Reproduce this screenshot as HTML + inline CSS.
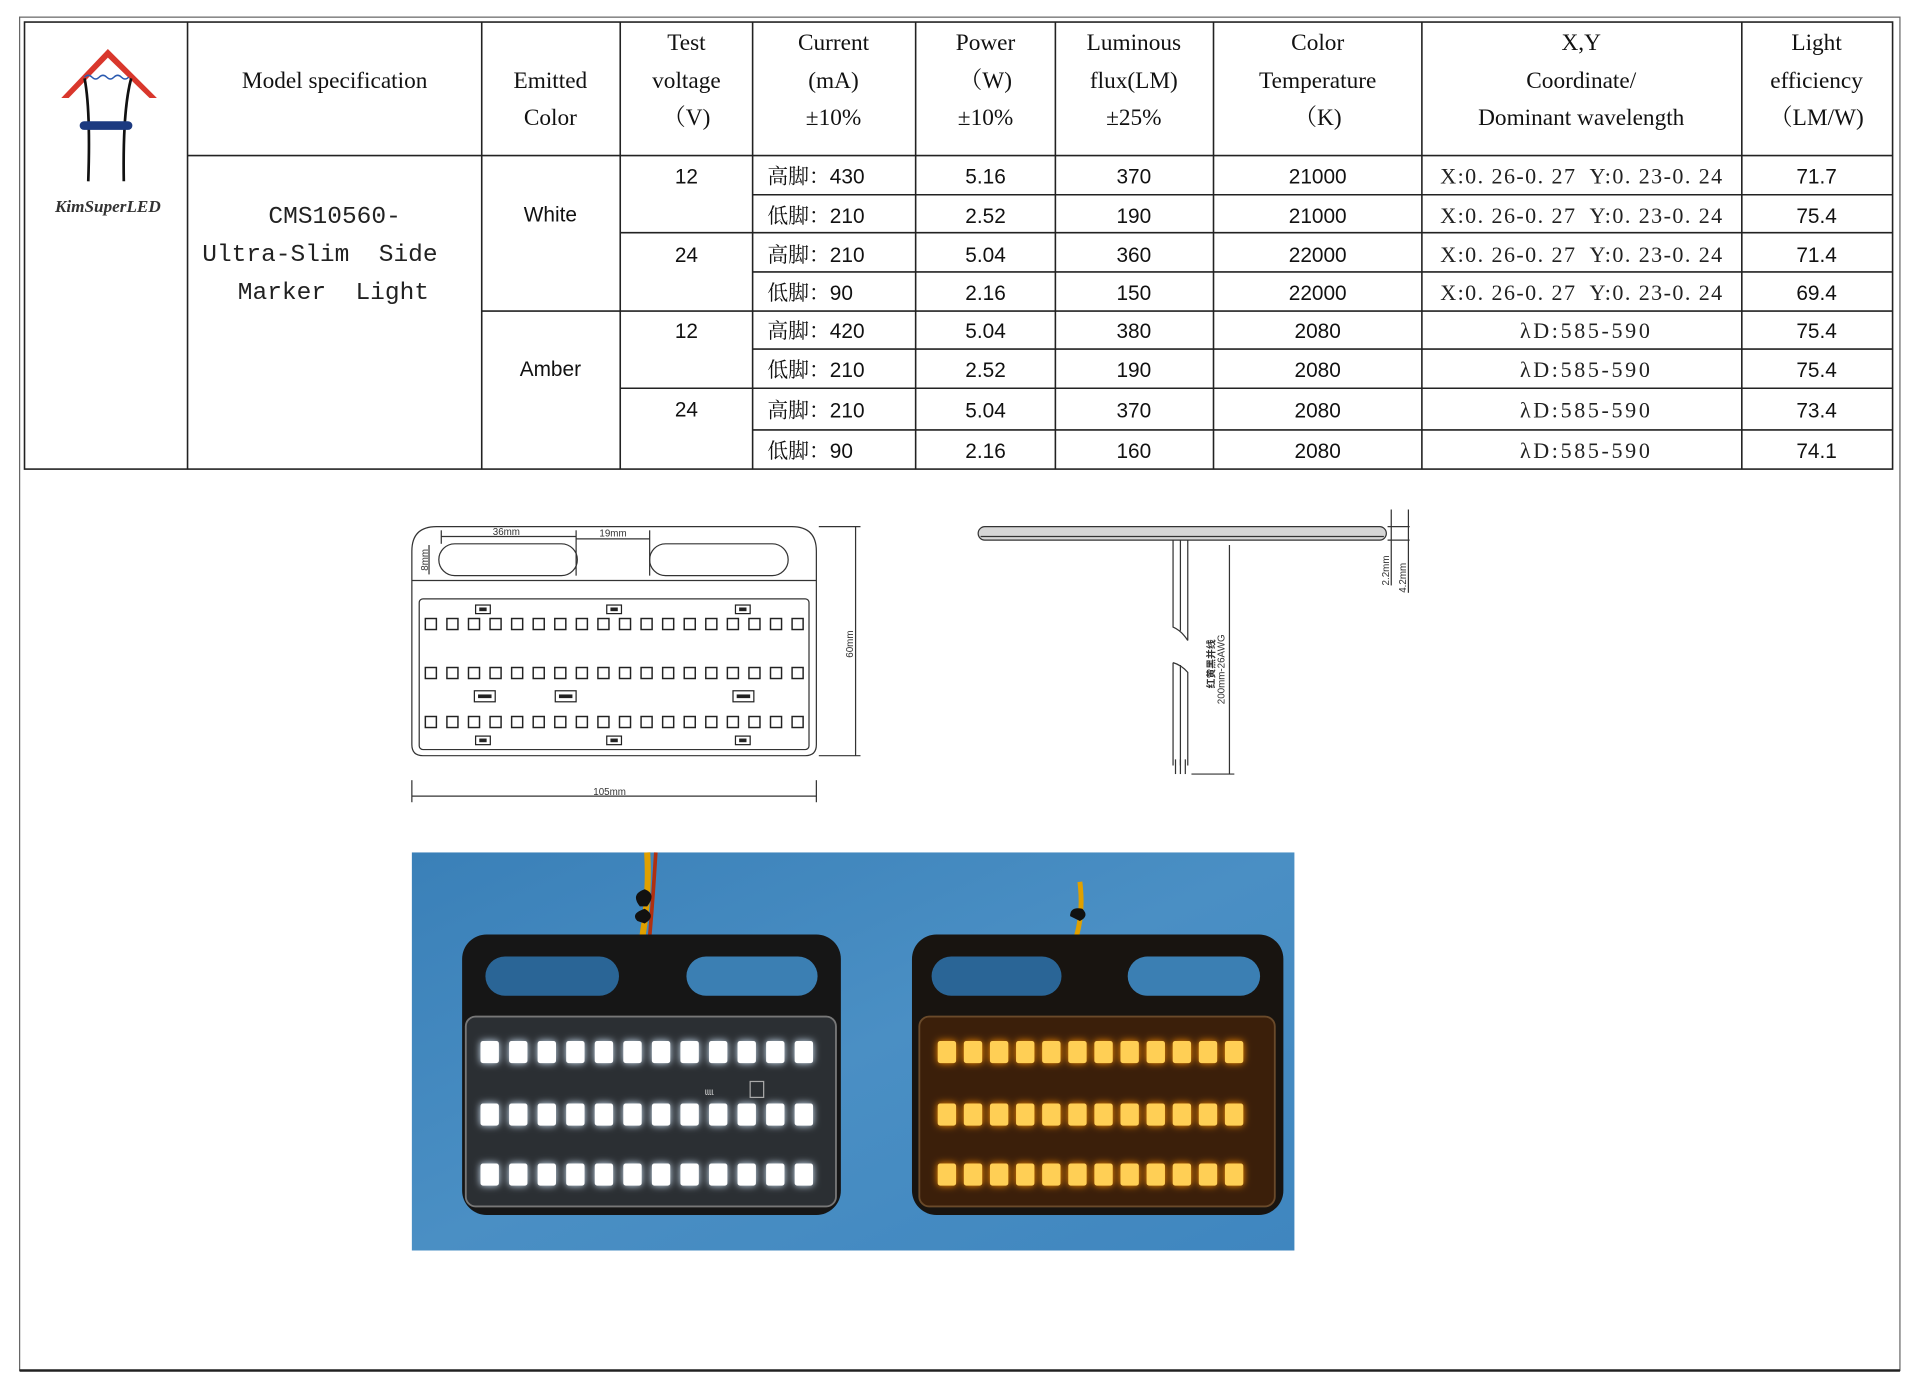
<!DOCTYPE html>
<html><head><meta charset="utf-8"><style>
html,body{margin:0;padding:0;background:#fff;}
svg{display:block;}
.h{font-family:"Liberation Serif","Noto Serif CJK SC",serif;font-size:19px;fill:#111;text-anchor:middle;}
.n{font-family:"Liberation Sans","Noto Sans CJK SC",sans-serif;font-size:17px;fill:#111;text-anchor:middle;}
.c{font-family:"Liberation Sans","Noto Serif CJK SC",sans-serif;font-size:17px;fill:#111;}
.m{font-family:"Liberation Mono","Noto Sans CJK SC",monospace;font-size:20px;fill:#222;text-anchor:middle;}
.x{font-family:"Liberation Serif","Noto Serif CJK SC",serif;font-size:18px;fill:#222;}
.d{font-family:"Liberation Sans","Noto Sans CJK SC",sans-serif;font-size:8px;fill:#333;}
</style></head><body>
<svg width="1922" height="1384" viewBox="0 0 1568 1130" preserveAspectRatio="none" xmlns="http://www.w3.org/2000/svg">
<defs>
<g id="sqrow" fill="none" stroke="#222" stroke-width="1.2">
<rect x="347" y="0" width="9" height="9"/><rect x="364.6" y="0" width="9" height="9"/><rect x="382.2" y="0" width="9" height="9"/><rect x="399.8" y="0" width="9" height="9"/><rect x="417.4" y="0" width="9" height="9"/><rect x="435" y="0" width="9" height="9"/><rect x="452.6" y="0" width="9" height="9"/><rect x="470.2" y="0" width="9" height="9"/><rect x="487.8" y="0" width="9" height="9"/><rect x="505.4" y="0" width="9" height="9"/><rect x="523" y="0" width="9" height="9"/><rect x="540.6" y="0" width="9" height="9"/><rect x="558.2" y="0" width="9" height="9"/><rect x="575.8" y="0" width="9" height="9"/><rect x="593.4" y="0" width="9" height="9"/><rect x="611" y="0" width="9" height="9"/><rect x="628.6" y="0" width="9" height="9"/><rect x="646.2" y="0" width="9" height="9"/>
</g>
<g id="wrow">
<rect x="392" y="-9" width="15" height="18" rx="2"/><rect x="415.3" y="-9" width="15" height="18" rx="2"/><rect x="438.6" y="-9" width="15" height="18" rx="2"/><rect x="461.9" y="-9" width="15" height="18" rx="2"/><rect x="485.2" y="-9" width="15" height="18" rx="2"/><rect x="508.5" y="-9" width="15" height="18" rx="2"/><rect x="531.8" y="-9" width="15" height="18" rx="2"/><rect x="555.1" y="-9" width="15" height="18" rx="2"/><rect x="578.4" y="-9" width="15" height="18" rx="2"/><rect x="601.7" y="-9" width="15" height="18" rx="2"/><rect x="625" y="-9" width="15" height="18" rx="2"/><rect x="648.3" y="-9" width="15" height="18" rx="2"/>
</g>
<g id="arow">
<rect x="765" y="-9" width="15" height="18" rx="2"/><rect x="786.3" y="-9" width="15" height="18" rx="2"/><rect x="807.6" y="-9" width="15" height="18" rx="2"/><rect x="828.9" y="-9" width="15" height="18" rx="2"/><rect x="850.2" y="-9" width="15" height="18" rx="2"/><rect x="871.5" y="-9" width="15" height="18" rx="2"/><rect x="892.8" y="-9" width="15" height="18" rx="2"/><rect x="914.1" y="-9" width="15" height="18" rx="2"/><rect x="935.4" y="-9" width="15" height="18" rx="2"/><rect x="956.7" y="-9" width="15" height="18" rx="2"/><rect x="978" y="-9" width="15" height="18" rx="2"/><rect x="999.3" y="-9" width="15" height="18" rx="2"/>
</g>
<filter id="glow" x="-50%" y="-50%" width="200%" height="200%"><feGaussianBlur stdDeviation="3"/></filter>
<linearGradient id="bg" x1="0" y1="0" x2="1" y2="1"><stop offset="0" stop-color="#3a80b8"/><stop offset="0.5" stop-color="#4a8fc4"/><stop offset="1" stop-color="#3f86bf"/></linearGradient>
</defs>

<rect x="16" y="14" width="1534" height="1105" fill="none" stroke="#666" stroke-width="1"/>
<line x1="16" y1="1119" x2="1550" y2="1119" stroke="#222" stroke-width="2"/>

<g stroke="#222" stroke-width="1.3" fill="none">
<rect x="20" y="18" width="1524" height="365"/>
<line x1="153" y1="18" x2="153" y2="383"/>
<line x1="393" y1="18" x2="393" y2="383"/>
<line x1="506" y1="18" x2="506" y2="383"/>
<line x1="614" y1="18" x2="614" y2="383"/>
<line x1="747" y1="18" x2="747" y2="383"/>
<line x1="861" y1="18" x2="861" y2="383"/>
<line x1="990" y1="18" x2="990" y2="383"/>
<line x1="1160" y1="18" x2="1160" y2="383"/>
<line x1="1421" y1="18" x2="1421" y2="383"/>
<line x1="153" y1="127" x2="1544" y2="127"/>
<line x1="614" y1="159" x2="1544" y2="159"/>
<line x1="506" y1="190" x2="1544" y2="190"/>
<line x1="614" y1="222" x2="1544" y2="222"/>
<line x1="393" y1="254" x2="1544" y2="254"/>
<line x1="614" y1="285" x2="1544" y2="285"/>
<line x1="506" y1="317" x2="1544" y2="317"/>
<line x1="614" y1="351" x2="1544" y2="351"/>
</g>

<path d="M50 80 L88 40 L128 80 L122 80 L88 47 L56 80 Z" fill="#d9372c"/>
<path d="M69 63 q3 -3 6 0 q3 3 6 0 q3 -3 6 0 q3 3 6 0 q3 -3 6 0 q3 3 6 0" fill="none" stroke="#2a5ab0" stroke-width="1.2"/>
<path d="M69 64 Q74 90 72 148 M107 64 Q100 90 101 148" fill="none" stroke="#111" stroke-width="2.2"/>
<rect x="65" y="99" width="43" height="7" rx="3.5" fill="#1c3a80"/>
<text x="88" y="173" text-anchor="middle" font-family="Liberation Serif,serif" font-style="italic" font-weight="bold" font-size="14" fill="#333">KimSuperLED</text>

<text class="h" x="273" y="72">Model specification</text>
<text class="h" x="449" y="72">Emitted</text><text class="h" x="449" y="102">Color</text>
<text class="h" x="560" y="41">Test</text><text class="h" x="560" y="72">voltage</text><text class="h" x="560" y="102">（V)</text>
<text class="h" x="680" y="41">Current</text><text class="h" x="680" y="72">(mA)</text><text class="h" x="680" y="102">±10%</text>
<text class="h" x="804" y="41">Power</text><text class="h" x="804" y="72">（W)</text><text class="h" x="804" y="102">±10%</text>
<text class="h" x="925" y="41">Luminous</text><text class="h" x="925" y="72">flux(LM)</text><text class="h" x="925" y="102">±25%</text>
<text class="h" x="1075" y="41">Color</text><text class="h" x="1075" y="72">Temperature</text><text class="h" x="1075" y="102">（K)</text>
<text class="h" x="1290" y="41">X,Y</text><text class="h" x="1290" y="72">Coordinate/</text><text class="h" x="1290" y="102">Dominant wavelength</text>
<text class="h" x="1482" y="41">Light</text><text class="h" x="1482" y="72">efficiency</text><text class="h" x="1482" y="102">（LM/W)</text>

<text class="m" x="273" y="182">CMS10560-</text>
<text class="m" x="261" y="213" xml:space="preserve">Ultra-Slim  Side</text>
<text class="m" x="272" y="244" xml:space="preserve">Marker  Light</text>
<text class="n" x="449" y="181">White</text>
<text class="n" x="449" y="307">Amber</text>
<text class="n" x="560" y="150">12</text>
<text class="n" x="560" y="214">24</text>
<text class="n" x="560" y="276">12</text>
<text class="n" x="560" y="340">24</text>

<g>
<text class="c" x="626" y="150">高脚：430</text>
<text class="c" x="626" y="182">低脚：210</text>
<text class="c" x="626" y="214">高脚：210</text>
<text class="c" x="626" y="245">低脚：90</text>
<text class="c" x="626" y="276">高脚：420</text>
<text class="c" x="626" y="308">低脚：210</text>
<text class="c" x="626" y="341">高脚：210</text>
<text class="c" x="626" y="374">低脚：90</text>
</g>
<g>
<text class="n" x="804" y="150">5.16</text><text class="n" x="925" y="150">370</text><text class="n" x="1075" y="150">21000</text><text class="x" x="1175" y="150" textLength="230" lengthAdjust="spacing" xml:space="preserve">X:0. 26-0. 27  Y:0. 23-0. 24</text><text class="n" x="1482" y="150">71.7</text>
<text class="n" x="804" y="182">2.52</text><text class="n" x="925" y="182">190</text><text class="n" x="1075" y="182">21000</text><text class="x" x="1175" y="182" textLength="230" lengthAdjust="spacing" xml:space="preserve">X:0. 26-0. 27  Y:0. 23-0. 24</text><text class="n" x="1482" y="182">75.4</text>
<text class="n" x="804" y="214">5.04</text><text class="n" x="925" y="214">360</text><text class="n" x="1075" y="214">22000</text><text class="x" x="1175" y="214" textLength="230" lengthAdjust="spacing" xml:space="preserve">X:0. 26-0. 27  Y:0. 23-0. 24</text><text class="n" x="1482" y="214">71.4</text>
<text class="n" x="804" y="245">2.16</text><text class="n" x="925" y="245">150</text><text class="n" x="1075" y="245">22000</text><text class="x" x="1175" y="245" textLength="230" lengthAdjust="spacing" xml:space="preserve">X:0. 26-0. 27  Y:0. 23-0. 24</text><text class="n" x="1482" y="245">69.4</text>
<text class="n" x="804" y="276">5.04</text><text class="n" x="925" y="276">380</text><text class="n" x="1075" y="276">2080</text><text class="x" x="1240" y="276" textLength="106" lengthAdjust="spacing">λD:585-590</text><text class="n" x="1482" y="276">75.4</text>
<text class="n" x="804" y="308">2.52</text><text class="n" x="925" y="308">190</text><text class="n" x="1075" y="308">2080</text><text class="x" x="1240" y="308" textLength="106" lengthAdjust="spacing">λD:585-590</text><text class="n" x="1482" y="308">75.4</text>
<text class="n" x="804" y="341">5.04</text><text class="n" x="925" y="341">370</text><text class="n" x="1075" y="341">2080</text><text class="x" x="1240" y="341" textLength="106" lengthAdjust="spacing">λD:585-590</text><text class="n" x="1482" y="341">73.4</text>
<text class="n" x="804" y="374">2.16</text><text class="n" x="925" y="374">160</text><text class="n" x="1075" y="374">2080</text><text class="x" x="1240" y="374" textLength="106" lengthAdjust="spacing">λD:585-590</text><text class="n" x="1482" y="374">74.1</text>
</g>

<g fill="none" stroke="#333" stroke-width="1">
<path d="M356 430 L646 430 Q666 430 666 450 L666 608 Q666 617 657 617 L345 617 Q336 617 336 608 L336 450 Q336 430 356 430 Z"/>
<line x1="336" y1="474" x2="666" y2="474"/>
<rect x="358" y="444" width="113" height="26" rx="13"/>
<rect x="530" y="444" width="113" height="26" rx="13"/>
<rect x="342" y="489" width="318" height="123" rx="3"/>
<line x1="360" y1="438" x2="470" y2="438"/><line x1="470" y1="440" x2="530" y2="440"/>
<line x1="360" y1="433" x2="360" y2="444"/><line x1="470" y1="433" x2="470" y2="470"/><line x1="530" y1="433" x2="530" y2="470"/>
<line x1="350" y1="445" x2="350" y2="469"/>
<line x1="668" y1="430" x2="702" y2="430"/><line x1="668" y1="617" x2="702" y2="617"/><line x1="698" y1="430" x2="698" y2="617"/>
<line x1="336" y1="650" x2="666" y2="650"/><line x1="336" y1="637" x2="336" y2="655"/><line x1="666" y1="637" x2="666" y2="655"/>
</g>
<use href="#sqrow" y="505"/><use href="#sqrow" y="545"/><use href="#sqrow" y="585"/>
<g fill="none" stroke="#222" stroke-width="1">
<rect x="388" y="494" width="12" height="7"/><rect x="495" y="494" width="12" height="7"/><rect x="600" y="494" width="12" height="7"/>
<rect x="388" y="601" width="12" height="7"/><rect x="495" y="601" width="12" height="7"/><rect x="600" y="601" width="12" height="7"/>
<rect x="387" y="564" width="17" height="9"/><rect x="453" y="564" width="17" height="9"/><rect x="598" y="564" width="17" height="9"/>
</g>
<g fill="#222"><rect x="391" y="496" width="6" height="3"/><rect x="498" y="496" width="6" height="3"/><rect x="603" y="496" width="6" height="3"/><rect x="391" y="603" width="6" height="3"/><rect x="498" y="603" width="6" height="3"/><rect x="603" y="603" width="6" height="3"/><rect x="390" y="567" width="11" height="3"/><rect x="456" y="567" width="11" height="3"/><rect x="601" y="567" width="11" height="3"/></g>
<text class="d" x="402" y="437">36mm</text>
<text class="d" x="489" y="438">19mm</text>
<text class="d" x="484" y="649">105mm</text>
<text class="d" transform="translate(349,466) rotate(-90)">8mm</text>
<text class="d" transform="translate(696,537) rotate(-90)">60mm</text>

<g fill="none" stroke="#333" stroke-width="1">
<rect x="798" y="430" width="333" height="11" rx="5.5" fill="#d6d6d6"/>
<line x1="800" y1="438" x2="1129" y2="438"/>
<path d="M957 441 L957 512 Q964 515 969 523 M963 441 L963 515 M969 441 L969 523"/>
<path d="M957 541 Q964 543 969 549 L969 625 M957 541 L957 625 M963 543 L963 625"/>
<line x1="959" y1="620" x2="959" y2="632"/><line x1="963" y1="620" x2="963" y2="632"/><line x1="967" y1="620" x2="967" y2="632"/>
<line x1="1003" y1="445" x2="1003" y2="632"/><line x1="972" y1="632" x2="1007" y2="632"/>
<line x1="1132" y1="430" x2="1150" y2="430"/><line x1="1132" y1="441" x2="1150" y2="441"/>
<line x1="1135" y1="416" x2="1135" y2="478"/><line x1="1149" y1="416" x2="1149" y2="484"/>
</g>
<text class="d" transform="translate(999,575) rotate(-90)" font-size="9">200mm-26AWG</text>
<text class="d" transform="translate(991,562) rotate(-90)" font-size="8" font-weight="bold">红黄黑并线</text>
<text class="d" transform="translate(1133,478) rotate(-90)">2.2mm</text>
<text class="d" transform="translate(1147,484) rotate(-90)">4.2mm</text>

<rect x="336" y="696" width="720" height="325" fill="url(#bg)"/>
<path d="M528 696 Q530 730 524 765" stroke="#e0a000" stroke-width="5" fill="none"/>
<path d="M535 696 Q533 730 530 765" stroke="#b03010" stroke-width="3" fill="none"/>
<path d="M522 740 q-8 -10 4 -14 q10 4 2 14 z M520 752 q-6 -6 6 -10 q10 6 0 12 z" fill="#111"/>
<path d="M881 720 Q884 745 878 765" stroke="#e0a000" stroke-width="4" fill="none"/>
<path d="M873 748 q0 -8 10 -6 q6 6 -2 10 z" fill="#111"/>
<rect x="377" y="763" width="309" height="229" rx="20" fill="#161616"/>
<rect x="396" y="781" width="109" height="32" rx="16" fill="#2a6596"/>
<rect x="560" y="781" width="107" height="32" rx="16" fill="#3b7fb3"/>
<rect x="380" y="830" width="302" height="155" rx="8" fill="#2b2f33" stroke="#777" stroke-width="1.5"/>
<g fill="#d8ecff" filter="url(#glow)"><use href="#wrow" y="859"/><use href="#wrow" y="910"/><use href="#wrow" y="959"/></g>
<g fill="#ffffff"><use href="#wrow" y="859"/><use href="#wrow" y="910"/><use href="#wrow" y="959"/></g>
<text x="575" y="894" font-family="Liberation Sans,sans-serif" font-size="8" fill="#ccc">ɩɩɩɩ</text>
<rect x="612" y="883" width="11" height="13" fill="none" stroke="#aaa" stroke-width="1"/>
<rect x="744" y="763" width="303" height="229" rx="20" fill="#181410"/>
<rect x="760" y="781" width="106" height="32" rx="16" fill="#2a6596"/>
<rect x="920" y="781" width="108" height="32" rx="16" fill="#3b7fb3"/>
<rect x="750" y="830" width="290" height="155" rx="8" fill="#3b1f0a" stroke="#6a4a2a" stroke-width="1.5"/>
<g fill="#ff9000" filter="url(#glow)"><use href="#arow" y="859"/><use href="#arow" y="910"/><use href="#arow" y="959"/></g>
<g fill="#ffcf55"><use href="#arow" y="859"/><use href="#arow" y="910"/><use href="#arow" y="959"/></g>
</svg>
</body></html>
